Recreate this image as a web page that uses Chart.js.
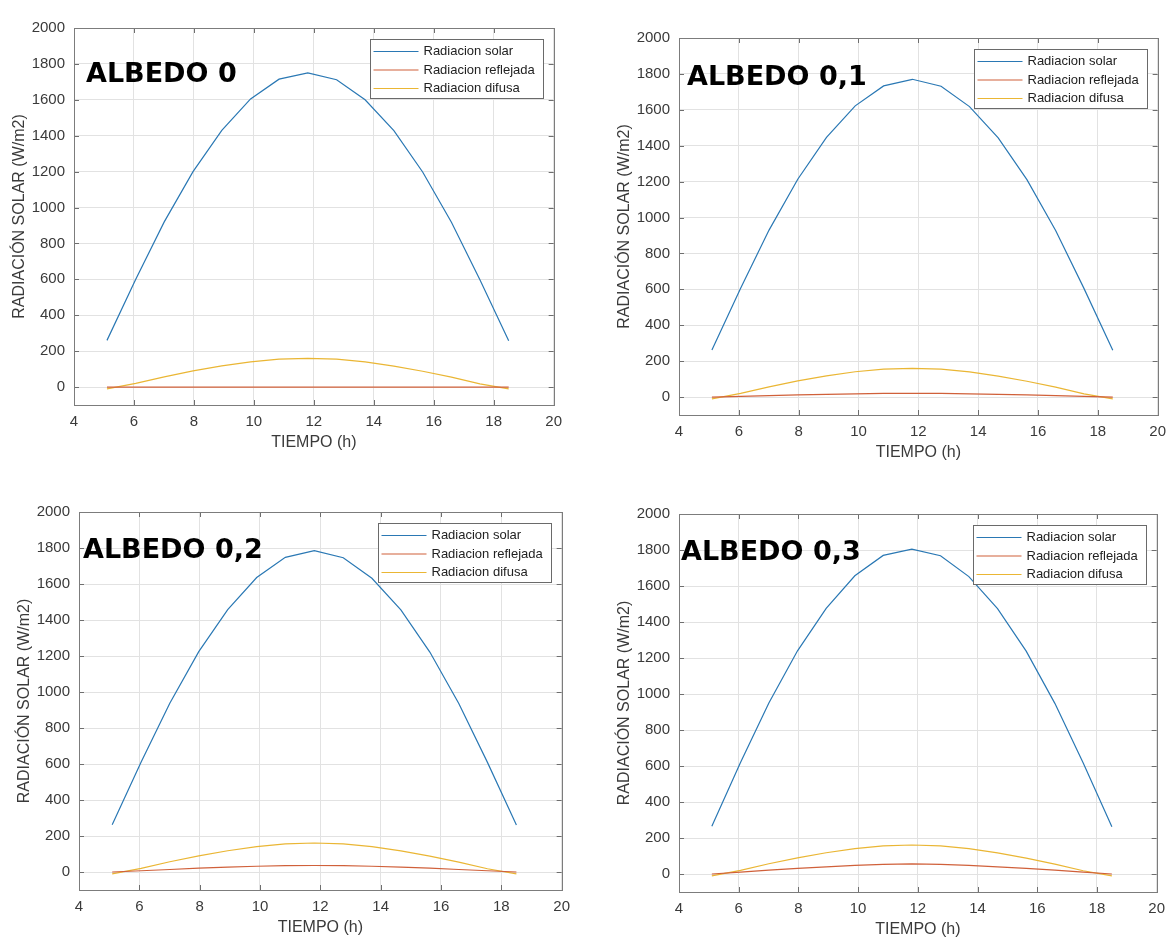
<!DOCTYPE html>
<html>
<head>
<meta charset="utf-8">
<script src="https://cdn.jsdelivr.net/npm/chart.js@4.4.1/dist/chart.umd.min.js"></script>
<style>
  html, body { margin: 0; padding: 0; background: #fff; overflow: hidden; }
  body { position: relative; width: 1174px; height: 938px; }
  canvas { position: absolute; }
</style>
</head>
<body>
<canvas id="albedo0" width="564" height="442" style="left:6px;top:10px"></canvas>
<canvas id="albedo1" width="563" height="442" style="left:611px;top:20px"></canvas>
<canvas id="albedo2" width="567" height="443" style="left:11px;top:494px"></canvas>
<canvas id="albedo3" width="562" height="443" style="left:611px;top:496px"></canvas>
<script>
// hour of day for each sample
const hours = [5.10, 6.06, 7.01, 7.97, 8.93, 9.89, 10.84, 11.80, 12.76, 13.71, 14.67, 15.63, 16.59, 17.54, 18.50];

const xTicks = [4, 6, 8, 10, 12, 14, 16, 18, 20];
const yTicks = [0, 200, 400, 600, 800, 1000, 1200, 1400, 1600, 1800, 2000];

const seriesNames = ['Radiacion solar', 'Radiacion reflejada', 'Radiacion difusa'];
const panelTitles = ['ALBEDO 0', 'ALBEDO 0,1', 'ALBEDO 0,2', 'ALBEDO 0,3'];

// W/m2
const solar0 = [260, 600, 920, 1200, 1430, 1605, 1715, 1750, 1712, 1600, 1428, 1198, 918, 598, 258];
const solar1 = [262, 606, 930, 1213, 1446, 1622, 1733, 1770, 1731, 1618, 1444, 1211, 928, 604, 260];
const solar2 = [263, 611, 938, 1224, 1458, 1636, 1748, 1785, 1746, 1632, 1456, 1222, 936, 609, 261];
const solar3 = [265, 619, 950, 1240, 1476, 1657, 1770, 1805, 1768, 1652, 1474, 1238, 948, 617, 263];

const reflected0 = [0, 0, 0, 0, 0, 0, 0, 0, 0, 0, 0, 0, 0, 0, 0];
const reflected1 = [0, 4, 8, 12, 15, 18, 20, 21, 20, 18, 15, 12, 8, 4, 0];
const reflected2 = [0, 7, 14, 21, 27, 32, 35, 36, 35, 32, 27, 21, 14, 7, 0];
const reflected3 = [0, 10, 21, 31, 40, 48, 53, 56, 53, 48, 40, 31, 21, 10, 0];

const diffuse0 = [-10, 20, 57, 90, 118, 140, 155, 160, 156, 140, 117, 88, 55, 18, -10];
const diffuse1 = [-10, 20, 57, 90, 118, 141, 155, 160, 156, 140, 117, 88, 55, 18, -10];
const diffuse2 = [-10, 20, 57, 90, 118, 141, 156, 161, 156, 141, 117, 88, 55, 18, -10];
const diffuse3 = [-10, 20, 57, 90, 118, 141, 156, 161, 156, 141, 117, 88, 55, 18, -10];

const lineColors = ['#2a78b4', '#d0603a', '#eab634'];
const textColor = '#3a3a3a';

// where the "ALBEDO" caption sits inside each plot box
const captionOffsets = [
  { dx: 12, dy: 54 },
  { dx: 8, dy: 47 },
  { dx: 4, dy: 46 },
  { dx: 2, dy: 46 }
];

const toPoints = ys => ys.map((y, i) => ({ x: hours[i], y: y }));

// box, inward ticks, legend and caption drawn over the plot
const matlabFrame = {
  id: 'matlabFrame',
  afterDatasetsDraw(chart, args, opts) {
    const { ctx, chartArea: a, scales } = chart;
    ctx.save();

    // inward tick marks on all four sides
    ctx.strokeStyle = '#6e6e6e';
    ctx.lineWidth = 1;
    ctx.beginPath();
    xTicks.forEach(v => {
      const px = Math.round(scales.x.getPixelForValue(v)) + 0.5;
      ctx.moveTo(px, a.bottom); ctx.lineTo(px, a.bottom - 5);
      ctx.moveTo(px, a.top); ctx.lineTo(px, a.top + 5);
    });
    yTicks.forEach(v => {
      const py = Math.round(scales.y.getPixelForValue(v)) + 0.5;
      ctx.moveTo(a.left, py); ctx.lineTo(a.left + 5, py);
      ctx.moveTo(a.right, py); ctx.lineTo(a.right - 5, py);
    });
    ctx.stroke();

    // axes box
    ctx.strokeStyle = '#7c7c7c';
    ctx.strokeRect(Math.round(a.left) + 0.5, Math.round(a.top) + 0.5,
                   Math.round(a.right - a.left), Math.round(a.bottom - a.top));

    // legend
    const bw = 173, bh = 59;
    const bx = Math.round(a.right - 11 - bw) + 0.5;
    const by = Math.round(a.top + 11) + 0.5;
    ctx.fillStyle = '#fff';
    ctx.fillRect(bx, by, bw, bh);
    ctx.strokeStyle = '#6a6a6a';
    ctx.strokeRect(bx, by, bw, bh);
    ctx.font = '13px "Liberation Sans", Arial, sans-serif';
    ctx.textBaseline = 'middle';
    chart.data.datasets.forEach((ds, i) => {
      const ry = by + 12 + i * 18.5;
      ctx.strokeStyle = ds.borderColor;
      ctx.lineWidth = 1.2;
      ctx.beginPath();
      ctx.moveTo(bx + 3, ry);
      ctx.lineTo(bx + 48, ry);
      ctx.stroke();
      ctx.fillStyle = '#222';
      ctx.fillText(ds.label, bx + 53, ry);
    });

    // caption
    ctx.fillStyle = '#000';
    ctx.font = 'bold 27px "DejaVu Sans", Verdana, sans-serif';
    ctx.textBaseline = 'alphabetic';
    ctx.fillText(opts.text, a.left + opts.dx, a.top + opts.dy);

    ctx.restore();
  }
};

const tickFont = { family: '"Liberation Sans", Arial, sans-serif', size: 15 };
const titleFont = { family: '"Liberation Sans", Arial, sans-serif', size: 16 };

function buildChart(canvasId, idx, solar, reflected, diffuse, padRight) {
  const lines = [solar, reflected, diffuse];
  return new Chart(document.getElementById(canvasId), {
    type: 'line',
    data: {
      datasets: lines.map((ys, i) => ({
        label: seriesNames[i],
        data: toPoints(ys),
        borderColor: lineColors[i],
        borderWidth: 1.2,
        pointRadius: 0,
        tension: 0,
        fill: false
      }))
    },
    options: {
      responsive: false,
      animation: false,
      layout: { padding: { top: 12, right: padRight, left: 0, bottom: 0 } },
      plugins: {
        legend: { display: false },
        tooltip: { enabled: false },
        matlabFrame: {
          text: panelTitles[idx],
          dx: captionOffsets[idx].dx,
          dy: captionOffsets[idx].dy
        }
      },
      scales: {
        x: {
          type: 'linear',
          min: 4,
          max: 20,
          afterBuildTicks: s => { s.ticks = xTicks.map(v => ({ value: v })); },
          afterFit: s => { s.height = 47; },
          border: { display: false },
          grid: { color: '#e2e2e2', drawTicks: false },
          ticks: {
            padding: 8,
            color: textColor,
            font: tickFont,
            maxRotation: 0,
            callback: v => String(v)
          },
          title: {
            display: true,
            text: 'TIEMPO (h)',
            color: textColor,
            padding: { top: 0, bottom: 0 },
            font: titleFont
          }
        },
        y: {
          min: -100,
          max: 2000,
          afterBuildTicks: s => { s.ticks = yTicks.map(v => ({ value: v })); },
          afterFit: s => { s.width = 68; },
          border: { display: false },
          grid: { color: '#e2e2e2', drawTicks: false },
          ticks: {
            padding: 9,
            color: textColor,
            font: tickFont,
            callback: v => String(v)
          },
          title: {
            display: true,
            text: 'RADIACIÓN SOLAR (W/m2)',
            color: textColor,
            padding: { top: 4, bottom: 0 },
            font: titleFont
          }
        }
      }
    },
    plugins: [matlabFrame]
  });
}

buildChart('albedo0', 0, solar0, reflected0, diffuse0, 12);
buildChart('albedo1', 1, solar1, reflected1, diffuse1, 11);
buildChart('albedo2', 2, solar2, reflected2, diffuse2, 12);
buildChart('albedo3', 3, solar3, reflected3, diffuse3, 11);
</script>
</body>
</html>
